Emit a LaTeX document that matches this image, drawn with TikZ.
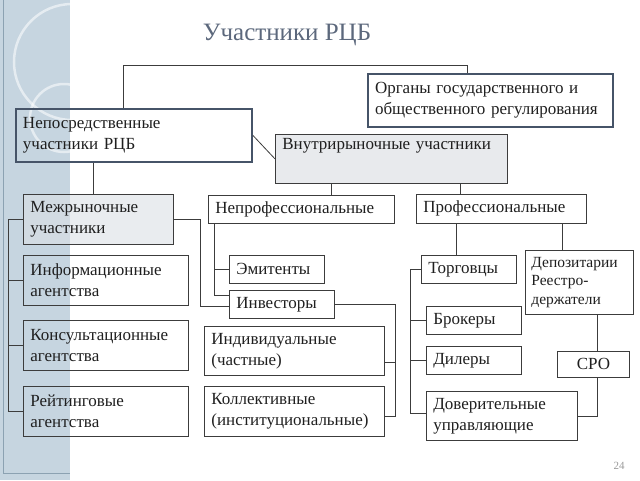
\documentclass[tikz,border=0pt]{standalone}
\usepackage{fontspec}
\setmainfont{Liberation Serif}
\definecolor{strip}{RGB}{198,213,224}
\definecolor{stripline}{RGB}{140,162,178}
\definecolor{titlec}{RGB}{92,104,124}
\definecolor{frame}{RGB}{70,84,104}
\definecolor{linec}{RGB}{60,60,60}
\definecolor{fillg}{RGB}{218,223,228}
\definecolor{fillv}{RGB}{232,234,237}
\begin{document}
\begin{tikzpicture}[x=1pt,y=-1pt,
  box/.style={draw=linec, line width=0.8pt, anchor=north west, inner xsep=7pt, inner ysep=0pt,
    align=left, font=\fontsize{17}{21}\selectfont, text=black!88},
  thickbox/.style={box, draw=frame, line width=2pt},
  conn/.style={draw=linec, line width=0.8pt}]
\useasboundingbox (0,0) rectangle (640,480);
% left decorative strip
\fill[strip] (0,0) rectangle (70,480);
\begin{scope}
\clip (0,0) rectangle (70,480);
\draw[white, opacity=0.55, line width=2.5pt] (72,62) circle (58);
\draw[white, opacity=0.55, line width=2.5pt] (64,118) circle (34);
\end{scope}
\draw[stripline, line width=0.8pt] (3,0) -- (3,473) -- (70,473);
% title
\node[text=titlec, font=\fontsize{25}{30}\selectfont] (title) at (287,35) {Участники РЦБ};
% boxes
\node[thickbox, minimum width=245, minimum height=53, text width=231] (org) at (367,73)
  {Органы государственного и\\общественного регулирования};
\node[thickbox, minimum width=236, minimum height=53, text width=222] (nep) at (15,108)
  {Непосредственные\\участники РЦБ};
\node[box, fill=fillv, minimum width=232, minimum height=49, text width=218] (vnu) at (275,134)
  {Внутрирыночные участники\\[9pt]\mbox{}};
\node[box, fill=fillg, fill opacity=0.6, text opacity=1, minimum width=150, minimum height=50, text width=136] (mez) at (23,194)
  {Межрыночные\\участники};
\node[box, minimum width=165, minimum height=50, text width=151] (inf) at (23,255)
  {Информационные\\агентства};
\node[box, minimum width=165, minimum height=50, text width=151] (kon) at (23,320)
  {Консультационные\\агентства};
\node[box, minimum width=165, minimum height=50, text width=151] (rei) at (23,386)
  {Рейтинговые\\агентства};
\node[box, minimum width=186, minimum height=28, text width=172] (neprof) at (208,195)
  {Непрофессиональные};
\node[box, minimum width=170, minimum height=29, text width=156] (prof) at (416,194)
  {Профессиональные};
\node[box, minimum width=95, minimum height=28, text width=81] (emi) at (229,255) {Эмитенты};
\node[box, minimum width=105, minimum height=28, text width=91] (inv) at (229,290) {Инвесторы};
\node[box, minimum width=180, minimum height=49, text width=166] (ind) at (204,326)
  {Индивидуальные\\(частные)};
\node[box, minimum width=180, minimum height=50, text width=166] (kol) at (204,386)
  {Коллективные\\(институциональные)};
\node[box, minimum width=95, minimum height=28, text width=81] (tor) at (421,255) {Торговцы};
\node[box, minimum width=108, minimum height=64, text width=96, inner xsep=6pt,
  font=\fontsize{15.5}{18.5}\selectfont] (dep) at (525,250)
  {Депозитарии\\Реестро-\\держатели};
\node[box, minimum width=95, minimum height=28, text width=81] (bro) at (426,306) {Брокеры};
\node[box, minimum width=95, minimum height=28, text width=81] (dil) at (426,346) {Дилеры};
\node[box, minimum width=151, minimum height=49, text width=137] (dov) at (426,391)
  {Доверительные\\управляющие};
\node[box, minimum width=72, minimum height=26, text width=58, align=center] (sro) at (557,351) {СРО};
\node[text=black!40, font=\fontsize{11}{13}\selectfont] (pg) at (619,466) {24};
% connectors
\coordinate (tl) at (123,65);
\coordinate (tr) at (467,65);
\draw[conn] (nep.north -| tl) -- (tl) -- (tr) -- (org.north -| tr);
\draw[conn] (nep.east) -- (vnu.west);
\draw[conn] ([xshift=78pt]nep.south west) coordinate (a1) -- (a1 |- mez.north);
\draw[conn] ([xshift=56pt]vnu.south west) coordinate (a2) -- (a2 |- neprof.north);
\draw[conn] ([xshift=185pt]vnu.south west) coordinate (a3) -- (a3 |- prof.north);
% left bracket
\coordinate (lb) at (8,0);
\draw[conn] (mez.west) -- (mez.west -| lb) -- (rei.west -| lb) -- (rei.west);
\draw[conn] (inf.west -| lb) -- (inf.west);
\draw[conn] (kon.west -| lb) -- (kon.west);
% mez to investors
\coordinate (mx) at (200,0);
\draw[conn] (mez.east) -- (mez.east -| mx) -- ([yshift=-2pt]inv.west -| mx) -- ([yshift=-2pt]inv.west);
% neprof bracket
\draw[conn] ([xshift=6pt]neprof.south west) coordinate (b) -- (b |- emi.west) -- (emi.west);
\draw[conn] (b |- emi.west) |- ([yshift=9pt]inv.west);
% investors bracket
\coordinate (rx) at (395,0);
\draw[conn] (inv.east) -- (inv.east -| rx) -- ([yshift=-5pt]kol.east -| rx) -- ([yshift=-5pt]kol.east);
\draw[conn] ([yshift=-11pt]ind.east -| rx) -- ([yshift=-11pt]ind.east);
% professional
\draw[conn] ([xshift=40pt]prof.south west) coordinate (c) -- (c |- tor.north);
\draw[conn] ([xshift=146pt]prof.south west) coordinate (d) -- (d |- dep.north);
\coordinate (tx) at (410,0);
\draw[conn] (tor.west) -- (tor.west -| tx) -- ([yshift=3pt]dov.west -| tx) -- ([yshift=3pt]dov.west);
\draw[conn] (bro.west -| tx) -- (bro.west);
\draw[conn] (dil.west -| tx) -- (dil.west);
\draw[conn] ([xshift=72pt]dep.south west) coordinate (e) -- (e |- sro.north);
\draw[conn] (e |- sro.south) -- (e |- dov.east) -- (dov.east);
\end{tikzpicture}
\end{document}
